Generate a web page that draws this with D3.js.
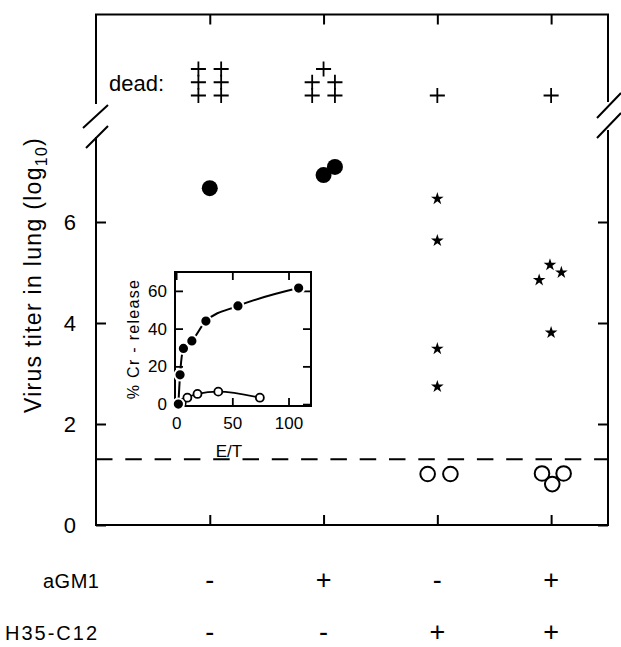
<!DOCTYPE html>
<html>
<head>
<style>
    body { margin: 0; background: #fff; }
    text { font-family: "Liberation Sans", Arial, sans-serif; fill: #000; }
</style>
</head>
<body>
    <div class="graph"></div>

    <script src="https://d3js.org/d3.v7.min.js"></script>
    <script>
        var groups = [1, 2, 3, 4]
        var aGM1 = ['-', '+', '-', '+']
        var h35 = ['-', '-', '+', '+']
        var yTicks = [0, 2, 4, 6]
        var detectionLimit = 1.3

        // virus titer (log10); offset spreads points inside a group
        var filledGroup = [1, 2, 2]
        var filledOffset = [0, 0, 0.1]
        var filledValue = [6.67, 6.93, 7.09]

        var starGroup = [3, 3, 3, 3, 4, 4, 4, 4]
        var starOffset = [0, 0, 0, 0, -0.01, 0.09, -0.105, 0]
        var starValue = [6.46, 5.63, 3.49, 2.74, 5.15, 5.0, 4.85, 3.81]

        var openGroup = [3, 3, 4, 4, 4]
        var openOffset = [-0.085, 0.115, -0.08, 0.11, 0.01]
        var openValue = [1.01, 1.01, 1.02, 1.02, 0.81]

        // dead mice, one cross each, stacked in rows
        var deadGroup = [1, 1, 1, 1, 1, 1, 2, 2, 2, 2, 2, 3, 4]
        var deadOffset = [-0.1, -0.1, -0.1, 0.1, 0.1, 0.1, -0.1, -0.1, 0.1, 0.1, 0, 0, 0]
        var deadRow = [0, 1, 2, 0, 1, 2, 0, 1, 0, 1, 2, 0, 0]

        // inset: % Cr release against E/T
        var insetXTicks = [0, 50, 100]
        var insetYTicks = [0, 20, 40, 60]
        var effET = [2, 3.5, 6.5, 14, 26.5, 55, 109]
        var effRelease = [0, 15.5, 29.5, 33.5, 44, 52, 61.5]
        var ctlET = [5, 10, 19, 37.5, 74.5]
        var ctlRelease = [0.7, 3.4, 5.4, 6.6, 3.4]

        var width = 621,
            height = 647

        var x = d3.scaleLinear().domain([0, 4.5]).range([96, 608])
        var y = d3.scaleLinear().domain([0, 6]).range([525, 222])
        var deadY = d3.scaleLinear().domain([0, 2]).range([95.5, 69])

        var svg = d3.select('.graph').append('svg')
            .attr('width', width)
            .attr('height', height)

        var frameTop = 14.5, frameBottom = y(0)

        // frame with broken sides
        var frame = svg.append('g')
            .attr('fill', 'none')
            .attr('stroke', '#000')
            .attr('stroke-width', 2)

        frame.append('path').attr('d', d3.line()([[x(0), 104], [x(0), frameTop], [x(4.5), frameTop], [x(4.5), 102]]))
        frame.append('path').attr('d', d3.line()([[x(0), 137], [x(0), frameBottom], [x(4.5), frameBottom], [x(4.5), 130]]))
        frame.append('path').attr('d', 'M83,128L108,105M86,148L108,126')
        frame.append('path').attr('d', 'M597,118L621,93M597,138L621,113')

        // inward ticks
        var yl = svg.append('g')
            .attr('transform', 'translate(' + x(0) + ',0)')
            .call(d3.axisLeft(y).tickValues(yTicks).tickSize(-10).tickPadding(20).tickFormat(d3.format('d')))
        svg.append('g')
            .attr('transform', 'translate(' + x(4.5) + ',0)')
            .call(d3.axisRight(y).tickValues(yTicks).tickSize(-10).tickFormat(''))
        svg.append('g')
            .attr('transform', 'translate(0,' + frameTop + ')')
            .call(d3.axisTop(x).tickValues(groups).tickSize(-10).tickFormat(''))
        svg.append('g')
            .attr('transform', 'translate(0,' + frameBottom + ')')
            .call(d3.axisBottom(x).tickValues(groups).tickSize(-10).tickFormat(''))

        svg.selectAll('.domain').remove()
        svg.selectAll('.tick line').attr('stroke-width', 2)
        yl.selectAll('text')
            .style('font-size', '22px')
            .style('font-family', '"Liberation Sans", Arial, sans-serif')

        svg.append('text')
            .attr('transform', 'translate(41,275) rotate(-90)')
            .attr('text-anchor', 'middle')
            .style('font-size', '23px')
            .style('letter-spacing', '1.3px')
            .text('Virus titer in lung (log')
            .append('tspan')
            .attr('dy', 6)
            .style('font-size', '16px')
            .text('10')
            .append('tspan')
            .attr('dy', -6)
            .style('font-size', '23px')
            .text(')')

        // detection limit
        svg.append('line')
            .attr('x1', x(0)).attr('x2', x(4.5))
            .attr('y1', y(detectionLimit)).attr('y2', y(detectionLimit))
            .attr('stroke', '#000')
            .attr('stroke-width', 2)
            .attr('stroke-dasharray', '16.5,12.8')

        // dead
        svg.append('text')
            .attr('x', 109).attr('y', 91)
            .style('font-size', '22px')
            .text('dead:')

        svg.append('g').selectAll('path')
            .data(deadGroup)
            .enter().append('path')
            .attr('transform', function (d, i) {
                return 'translate(' + x(d + deadOffset[i]) + ',' + deadY(deadRow[i]) + ')'
            })
            .attr('d', d3.symbol(d3.symbolPlus, 76))
            .attr('fill', 'none')
            .attr('stroke', '#000')
            .attr('stroke-width', 1.8)

        svg.append('g').selectAll('circle')
            .data(filledGroup)
            .enter().append('circle')
            .attr('cx', function (d, i) { return x(d + filledOffset[i]) })
            .attr('cy', function (d, i) { return y(filledValue[i]) })
            .attr('r', 8)
            .attr('fill', '#000')

        svg.append('g').selectAll('path')
            .data(starGroup)
            .enter().append('path')
            .attr('transform', function (d, i) {
                return 'translate(' + x(d + starOffset[i]) + ',' + y(starValue[i]) + ')'
            })
            .attr('d', d3.symbol(d3.symbolStar, 50))
            .attr('fill', '#000')

        svg.append('g').selectAll('circle')
            .data(openGroup)
            .enter().append('circle')
            .attr('cx', function (d, i) { return x(d + openOffset[i]) })
            .attr('cy', function (d, i) { return y(openValue[i]) })
            .attr('r', 7.3)
            .attr('fill', 'none')
            .attr('stroke', '#000')
            .attr('stroke-width', 2)

        // treatment rows
        svg.append('text').attr('x', 43).attr('y', 588).style('font-size', '20px').style('letter-spacing', '0.5px').text('aGM1')
        svg.append('text').attr('x', 5).attr('y', 640).style('font-size', '20px').style('letter-spacing', '2px').text('H35-C12')

        svg.append('g').selectAll('text')
            .data(aGM1)
            .enter().append('text')
            .attr('x', function (d, i) { return x(groups[i]) })
            .attr('y', 589)
            .attr('text-anchor', 'middle')
            .style('font-size', '27px')
            .text(function (d) { return d })

        svg.append('g').selectAll('text')
            .data(h35)
            .enter().append('text')
            .attr('x', function (d, i) { return x(groups[i]) })
            .attr('y', 641)
            .attr('text-anchor', 'middle')
            .style('font-size', '27px')
            .text(function (d) { return d })

        // inset
        var ix = d3.scaleLinear().domain([-1, 120]).range([175, 311])
        var iy = d3.scaleLinear().domain([-1, 70]).range([406, 272])

        var inset = svg.append('g')

        inset.append('rect')
            .attr('x', ix(-1)).attr('y', iy(70))
            .attr('width', ix(120) - ix(-1))
            .attr('height', iy(-1) - iy(70))
            .attr('fill', '#fff')
            .attr('stroke', '#000')
            .attr('stroke-width', 2)

        inset.append('g')
            .attr('transform', 'translate(0,' + iy(-1) + ')')
            .call(d3.axisBottom(ix).tickValues(insetXTicks).tickSize(-8).tickPadding(11))
        inset.append('g')
            .attr('transform', 'translate(' + ix(-1) + ',0)')
            .call(d3.axisLeft(iy).tickValues(insetYTicks).tickSize(-8).tickPadding(8))
        inset.append('g')
            .attr('transform', 'translate(0,' + iy(70) + ')')
            .call(d3.axisTop(ix).tickValues(insetXTicks).tickSize(-8).tickFormat(''))
        inset.append('g')
            .attr('transform', 'translate(' + ix(120) + ',0)')
            .call(d3.axisRight(iy).tickValues(insetYTicks).tickSize(-8).tickFormat(''))

        inset.selectAll('.domain').remove()
        inset.selectAll('.tick line').attr('stroke-width', 1.8)
        inset.selectAll('.tick text')
            .style('font-size', '17px')
            .style('font-family', '"Liberation Sans", Arial, sans-serif')

        inset.append('text')
            .attr('x', ix(47)).attr('y', 457)
            .attr('text-anchor', 'middle')
            .style('font-size', '17px')
            .text('E/T')

        inset.append('text')
            .attr('transform', 'translate(139,339) rotate(-90)')
            .attr('text-anchor', 'middle')
            .style('font-size', '16px')
            .style('letter-spacing', '1.3px')
            .text('% Cr - release')

        var iline = d3.line()
            .x(function (d) { return ix(d[0]) })
            .y(function (d) { return iy(d[1]) })
            .curve(d3.curveMonotoneX)

        inset.append('path')
            .datum(d3.zip(ctlET, ctlRelease))
            .attr('d', iline)
            .attr('fill', 'none')
            .attr('stroke', '#000')
            .attr('stroke-width', 1.8)

        inset.append('path')
            .datum(d3.zip(effET, effRelease))
            .attr('d', iline)
            .attr('fill', 'none')
            .attr('stroke', '#000')
            .attr('stroke-width', 2)

        inset.append('g').selectAll('circle')
            .data(ctlET)
            .enter().append('circle')
            .attr('cx', function (d) { return ix(d) })
            .attr('cy', function (d, i) { return iy(ctlRelease[i]) })
            .attr('r', 4)
            .attr('fill', '#fff')
            .attr('stroke', '#000')
            .attr('stroke-width', 1.8)

        inset.append('g').selectAll('circle')
            .data(effET)
            .enter().append('circle')
            .attr('cx', function (d) { return ix(d) })
            .attr('cy', function (d, i) { return iy(effRelease[i]) })
            .attr('r', 5.6)
            .attr('fill', '#000')
            .attr('stroke', '#fff')
            .attr('stroke-width', 2)
    </script>
</body>
</html>
